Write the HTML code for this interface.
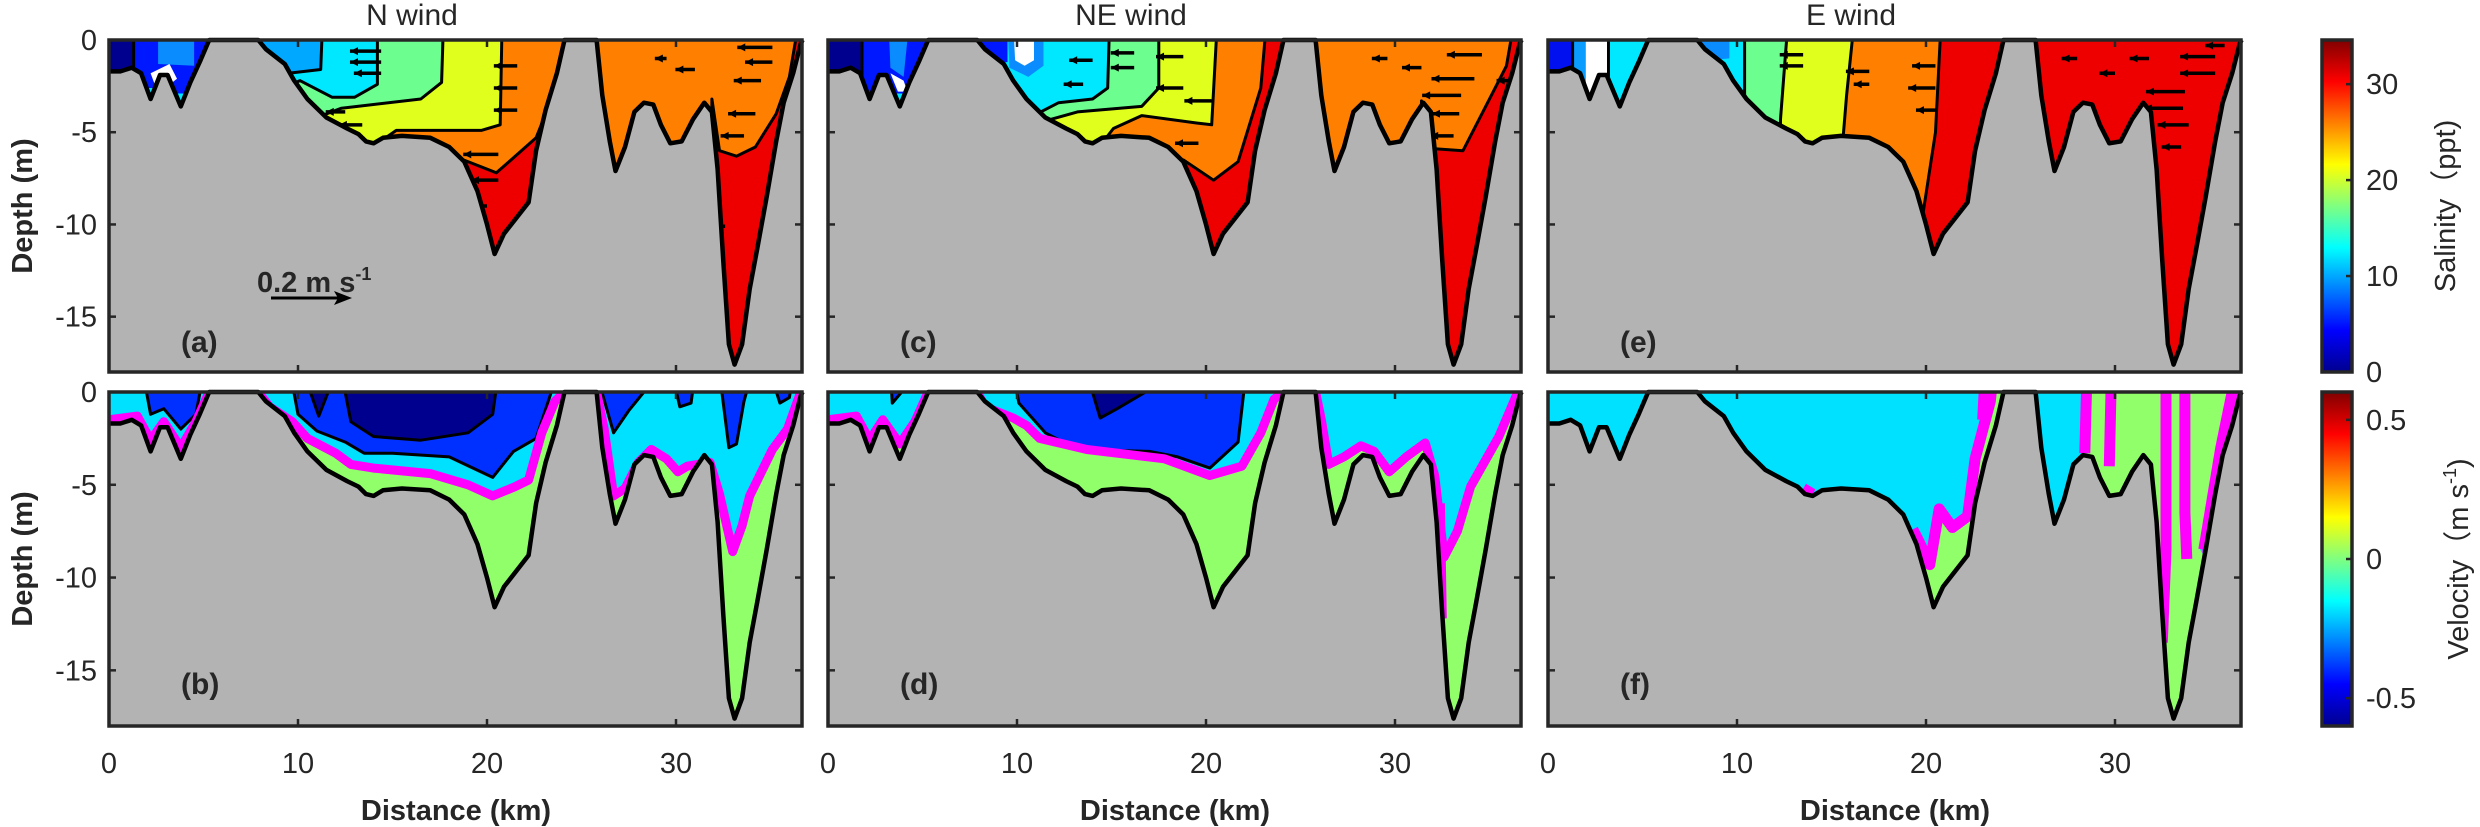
<!DOCTYPE html>
<html><head><meta charset="utf-8"><style>
html,body{margin:0;padding:0;background:#fff}
svg{display:block}
text{font-family:"Liberation Sans",Arial,sans-serif;fill:#262626}
</style></head><body>
<svg id="fig" width="2480" height="827" viewBox="0 0 2480 827" xmlns="http://www.w3.org/2000/svg">
<defs>
<linearGradient id="jetS" x1="0" y1="1" x2="0" y2="0">
<stop offset="0" stop-color="#00008f"/><stop offset="0.125" stop-color="#0000ff"/><stop offset="0.375" stop-color="#00ffff"/><stop offset="0.625" stop-color="#ffff00"/><stop offset="0.875" stop-color="#ff0000"/><stop offset="1" stop-color="#800000"/>
</linearGradient>
</defs>
</svg>
<script>
// ---- data ----
const bathyKm=[0,0.6,1.2,1.7,2.2,2.7,3.1,3.8,4.3,4.8,5.3,7.9,8.3,9.3,9.8,10.5,11.5,12.6,13.2,13.6,14,14.5,15.5,17,18,18.8,19.5,20,20.4,20.9,22.2,22.6,23.1,23.7,24.1,25.8,26.1,26.5,26.8,27.3,27.8,28.3,28.8,29.2,29.7,30.3,30.9,31.5,31.9,32.2,32.5,32.8,33.1,33.5,33.9,34.3,34.8,35.3,35.7,36.2,36.6,36.7];
const bathyDepth=[-1.7,-1.7,-1.5,-1.8,-3.2,-1.9,-1.9,-3.6,-2.3,-1.2,0,0,-0.5,-1.3,-2.2,-3.2,-4.2,-4.8,-5.1,-5.5,-5.6,-5.3,-5.2,-5.3,-5.8,-6.6,-8.2,-10,-11.6,-10.5,-8.8,-6,-3.8,-1.8,0,0,-3,-5.5,-7.1,-5.8,-3.9,-3.4,-3.5,-4.6,-5.6,-5.5,-4.3,-3.4,-3.9,-7,-12,-16.5,-17.6,-16.5,-13.5,-11.3,-8.5,-5.5,-3.4,-1.8,-0.2,0];
const xTicks=[0,10,20,30];
const yTicks=[0,-5,-10,-15];
const salTicks=[0,10,20,30];
const velTicks=[-0.5,0,0.5];
const titles=["N wind","NE wind","E wind"];
const W=[-1,1],E2=[38,1];
const layersA=[
["#00008f",0,[[-1,1],[-1,-20],[6,-20],[6,1]]],
["#0018ff",1,[[1.3,1],[1.3,-20],[6,-20],[6,1]]],
["#0a8cff",0,[[2.6,1],[2.6,-1.3],[4.5,-1.4],[4.5,1]]],
["#ffffff",0,[[2.2,-1.8],[3.2,-1.3],[3.6,-2.1],[2.6,-2.9]]],
["#00e8ff",0,[[1.9,-2.6],[2.6,-2.6],[2.6,-5],[1.9,-5]]],
["#00e8ff",0,[[3.5,-2.9],[4.2,-2.9],[4.2,-5],[3.5,-5]]],
["#00a8ff",0,[[7,1],[7,-20],[24.7,-20],[24.7,1]]],
["#00e8ff",1,[[11.3,1],[11.2,-1.6],[9.5,-1.8],[9,-20],[24.7,-20],[24.7,1]]],
["#6cff90",1,[[14.2,1],[14.2,-2.4],[13,-3.1],[11.8,-3.1],[10.1,-2.2],[9.5,-2.5],[9.5,-20],[24.7,-20],[24.7,1]]],
["#e0ff1c",1,[[17.7,1],[17.6,-2.3],[16.5,-3.2],[12.3,-3.7],[11,-4.2],[11,-20],[24.7,-20],[24.7,1]]],
["#ff8000",1,[[20.8,1],[20.7,-4.6],[19.7,-4.9],[15.2,-4.9],[14.5,-5.4],[13.5,-6],[13.5,-20],[24.7,-20],[24.7,1]]],
["#ee0000",1,[[18.5,-6.4],[20.5,-7.2],[22.6,-5.3],[23.5,-3],[24.7,-3],[24.7,-20],[18.5,-20]]],
["#ff8000",0,[[25,1],[25,-20],[38,-20],[38,1]]],
["#ee0000",1,[[31.9,-3.2],[32.3,-6],[33.2,-6.3],[34.2,-5.8],[35.3,-4],[36,-2],[36.5,1],[38,1],[38,-20],[31.9,-20]]]
];
const layersC=[
["#00008f",0,[[-1,1],[-1,-20],[6,-20],[6,1]]],
["#0018ff",1,[[1.8,1],[1.8,-20],[6,-20],[6,1]]],
["#0a8cff",0,[[3.2,1],[3.3,-1.5],[4,-2],[4.3,1]]],
["#ffffff",0,[[3.3,-1.8],[4,-2.2],[4.2,-2.8],[3.7,-2.8]]],
["#00e8ff",0,[[3.6,-2.9],[4.2,-2.9],[4.2,-5],[3.6,-5]]],
["#00e8ff",0,[[7,1],[7,-20],[24.7,-20],[24.7,1]]],
["#0018ff",0,[[7.5,1],[7.5,-1.2],[9.5,-1.2],[9.5,1]]],
["#0a8cff",0,[[9.5,1],[9.6,-1.5],[10.6,-2],[11.4,-1.4],[11.4,1]]],
["#ffffff",0,[[9.8,1],[9.9,-1.1],[10.4,-1.4],[10.9,-1.1],[10.9,1]]],
["#6cff90",1,[[14.9,1],[14.8,-2.6],[14,-3.2],[12.2,-3.4],[10.5,-4.3],[10.5,-20],[24.7,-20],[24.7,1]]],
["#e0ff1c",1,[[17.5,1],[17.5,-2.6],[16.6,-3.6],[13.2,-3.9],[11.8,-4.3],[11.8,-20],[24.7,-20],[24.7,1]]],
["#ff8000",1,[[20.6,1],[20.3,-4.6],[19.5,-4.5],[16.6,-4.1],[15.1,-4.8],[14.5,-5.6],[14.5,-20],[24.7,-20],[24.7,1]]],
["#ee0000",1,[[18.8,-6.5],[20.4,-7.6],[21.7,-6.6],[22.9,-2.6],[23.2,1],[24.7,1],[24.7,-20],[18.8,-20]]],
["#ff8000",0,[[25,1],[25,-20],[38,-20],[38,1]]],
["#ee0000",1,[[31.4,-3.3],[32.1,-5.9],[33.6,-6],[34.8,-3.6],[35.9,-1.4],[36.3,1],[38,1],[38,-20],[31.4,-20]]]
];
const layersE=[
["#0010ee",0,[[-1,1],[-1,-20],[6,-20],[6,1]]],
["#0a9cff",1,[[1.3,1],[1.3,-20],[6,-20],[6,1]]],
["#ffffff",0,[[2,1],[2,-20],[3.2,-20],[3.2,1]]],
["#00e8ff",1,[[3.2,1],[3.2,-20],[6,-20],[6,1]]],
["#00e8ff",0,[[7,1],[7,-20],[24.7,-20],[24.7,1]]],
["#0a8cff",0,[[7.5,1],[7.5,-1.2],[9.6,-1],[9.6,1]]],
["#6cff90",1,[[10.4,1],[10.4,-20],[24.7,-20],[24.7,1]]],
["#e0ff1c",1,[[12.7,1],[12.3,-4.3],[12.2,-20],[24.7,-20],[24.7,1]]],
["#ff8000",1,[[16.2,1],[15.8,-3],[15.6,-5.5],[15.6,-20],[24.7,-20],[24.7,1]]],
["#ee0000",1,[[20.8,1],[20.5,-5],[19.8,-9.7],[19.8,-20],[24.7,-20],[24.7,1]]],
["#ee0000",0,[[25,1],[25,-20],[38,-20],[38,1]]]
];
const quiverA=[[14.4,-0.6,-0.08],[14.4,-1.2,-0.08],[14.4,-1.8,-0.07],[12.5,-3.9,-0.05],[13.4,-4.6,-0.06],[12.5,-5.3,-0.06],[21.6,-1.4,-0.06],[21.6,-2.6,-0.06],[21.6,-3.8,-0.06],[20.6,-6.2,-0.09],[20.6,-7.6,-0.07],[20,-9,-0.06],[35.1,-0.4,-0.09],[35.1,-1.2,-0.07],[34.5,-2.2,-0.07],[34.2,-4,-0.07],[33.6,-5.2,-0.06],[32.6,-10.1,-0.05],[32.3,-12.5,-0.05],[31,-1.6,-0.05],[29.5,-1,-0.03],[36.2,-4.6,-0.03]];
const quiverC=[[16.2,-0.7,-0.06],[16.2,-1.5,-0.06],[18.8,-0.9,-0.07],[18.8,-2.6,-0.07],[20.3,-3.3,-0.07],[19.6,-5.6,-0.06],[14,-1.1,-0.06],[13.5,-2.4,-0.05],[34.6,-0.8,-0.09],[34.2,-2.1,-0.11],[33.5,-3,-0.1],[33.4,-4,-0.07],[33.1,-5.2,-0.06],[31.4,-1.5,-0.05],[29.6,-1,-0.04],[36.2,-2.2,-0.04]];
const quiverE=[[20.5,-1.4,-0.06],[20.5,-2.6,-0.07],[20.5,-3.8,-0.05],[17,-1.7,-0.06],[17,-2.4,-0.04],[13.5,-0.8,-0.06],[13.5,-1.4,-0.06],[35.3,-0.9,-0.09],[35.3,-1.8,-0.09],[33.7,-2.8,-0.1],[33.6,-3.7,-0.1],[33.9,-4.6,-0.08],[33.5,-5.8,-0.05],[31.8,-1,-0.05],[30,-1.8,-0.04],[28,-1,-0.04],[35.8,-0.3,-0.05]];
const contourB=[[-0.5,-1.4],[0,-1.5],[1.5,-1.3],[2.2,-2.6],[2.9,-1.6],[3.8,-3],[4.6,-1.6],[5.3,0],[7.9,0],[8.5,-0.8],[9.7,-1.6],[10.5,-2.5],[12,-3.3],[12.8,-3.9],[14,-4.1],[17,-4.4],[19,-5],[20.3,-5.6],[21.5,-5.1],[22.2,-4.75],[22.9,-2.2],[23.6,-0.5],[24.1,0],[25.8,0],[26.2,-2],[26.7,-5.6],[27.3,-5.2],[28,-3.8],[28.7,-3.1],[29.5,-3.6],[30.1,-4.3],[30.6,-4],[31.8,-3.8],[32.3,-5.5],[33,-8.6],[33.5,-7.2],[33.9,-5.6],[35.1,-3.1],[35.9,-2],[36.6,0],[37,0]];
const contourD=[[-0.5,-1.4],[0,-1.5],[1.5,-1.3],[2.2,-2.6],[2.9,-1.5],[3.8,-2.8],[4.6,-1.6],[5.3,0],[7.9,0],[8.3,-0.8],[9.8,-1.4],[10.5,-1.8],[11.2,-2.5],[13.7,-3.1],[17.8,-3.6],[20.2,-4.5],[21.9,-4],[22.9,-2.2],[23.6,-0.4],[24.1,0],[25.8,0],[26.1,-1.5],[26.5,-3.9],[27.3,-3.5],[28.2,-2.9],[28.9,-3.2],[29.7,-4.3],[30.6,-3.5],[31.6,-2.75],[32.1,-4.5],[32.6,-8.9],[33.3,-7.5],[34,-5.1],[35.5,-2.4],[36.5,0],[37,0]];
const velLayersB=[
["#00e0ff",0,contourB.concat([E2,W])],
["#0030ff",1,[[1.8,1],[2.2,-1.2],[2.9,-0.9],[3.8,-2],[4.6,-1.2],[5,1]]],
["#0030ff",1,[[9.6,1],[10,-1.2],[11,-2.1],[12.5,-2.7],[13.5,-3.3],[15,-3.3],[18,-3.5],[20.3,-4.6],[21.4,-3.2],[22.6,-2.5],[23.4,0],[23.5,1]]],
["#0030ff",1,[[25.8,1],[26.7,-2.2],[27.5,-1],[28.3,0],[28.3,1]]],
["#0030ff",1,[[29.8,1],[30.2,-0.8],[30.8,-0.6],[31,1]]],
["#0030ff",1,[[32.3,1],[32.8,-3],[33.2,-2.8],[33.6,-0.5],[34,1]]],
["#0030ff",1,[[35,1],[35.5,-0.6],[36,-0.3],[36.2,1]]],
["#00008f",1,[[10.3,1],[11.1,-1.3],[11.6,0],[11.7,1]]],
["#00008f",1,[[12.3,1],[12.8,-1.6],[14,-2.4],[16.5,-2.6],[19,-2.2],[20.3,-1.2],[20.6,1]]]
];
const velLayersD=[
["#00e0ff",0,contourD.concat([E2,W])],
["#0030ff",1,[[3.3,1],[3.4,-0.6],[3.9,0],[3.9,1]]],
["#0030ff",1,[[9.8,1],[10.1,-0.6],[11.5,-2.2],[13.2,-3.1],[17,-3.2],[18.5,-3.5],[20.2,-4.1],[21.7,-2.7],[22,0],[22,1]]],
["#00008f",1,[[13.7,1],[14.4,-1.4],[15.3,-0.9],[16.8,0],[16.8,1]]]
];
const velLayersF=[
["#00e0ff",0,[[-1,1],[-1,-20],[6,-20],[6,1]]],
["#00e0ff",0,[[7,1],[7,-20],[19.3,-20],[19.3,-7.4],[19.6,-8],[20.2,-9.3],[20.7,-6.3],[21.4,-7.3],[22.2,-6.7],[22.6,-3.6],[23.4,-0.5],[23.5,1]]],
["#00e0ff",0,[[25.5,1],[25.5,-20],[27.8,-20],[28.3,-3],[28.4,1]]],
["#00e0ff",0,[[34.5,-8.5],[35.6,-3.5],[36.2,0],[36.6,0],[35.3,-7],[34.8,-9]]]
];
const magentaB=[contourB];
const magentaD=[contourD,[[32.4,-6],[32.5,-12.2]]];
const magentaF=[[[13.5,-5.2],[14,-5.5]],[[19.3,-7.4],[19.6,-8],[20.2,-9.3],[20.7,-6.3],[21.4,-7.3],[22.2,-6.7],[22.6,-3.6],[23.4,-0.5],[23.5,0.5]],[[28.5,0.5],[28.4,-3.3]],[[29.8,0.5],[29.7,-4]],[[32.7,0.5],[32.7,-8.5],[32.5,-13.5]],[[33.7,0.5],[33.7,-6.5],[33.8,-9]],[[36.3,0.5],[35.6,-3],[34.7,-8.5]],[[36.7,0.5],[36,-2],[35.2,-5.5],[34.9,-8.7]],[[23.1,0.5],[23,-1.5]]];

// ---- layout ----
const NS="http://www.w3.org/2000/svg";
const svg=document.getElementById('fig');
const lefts=[109,828,1548], PW=693, KM=18.9;
const rows=[{y:40,h:332},{y:392,h:334}];
function mk(tag,attrs,parent){const e=document.createElementNS(NS,tag);for(const k in attrs)e.setAttribute(k,attrs[k]);(parent||svg).appendChild(e);return e;}
function X(col,km){return lefts[col]+km*KM;}
function Y(row,d){return rows[row].y+(-d)*rows[row].h/18;}
function pts(col,row,arr){return arr.map(p=>X(col,p[0]).toFixed(1)+","+Y(row,p[1]).toFixed(1)).join(" ");}

const salLayers=[layersA,layersC,layersE];
const velLayers=[velLayersB,velLayersD,velLayersF];
const magentas=[magentaB,magentaD,magentaF];
const quivers=[quiverA,quiverC,quiverE];
const labels=[["(a)","(b)"],["(c)","(d)"],["(e)","(f)"]];
const bathy=bathyKm.map((k,i)=>[k,bathyDepth[i]]);

for(let col=0;col<3;col++){
 for(let row=0;row<2;row++){
  const g=mk('g',{});
  
  
  const x0=lefts[col], y0=rows[row].y, h=rows[row].h;
  const bg=mk('rect',{x:x0,y:y0,width:PW,height:h,fill:'#b3b3b3'},g);
  
  
  const cid='clip'+col+row;
  const cp=mk('clipPath',{id:cid},g);
  const waterPts=[[0,0],[36.7,0]].concat(bathy.slice().reverse());
  mk('polygon',{points:pts(col,row,waterPts)},cp);
  const cg=mk('g',{'clip-path':'url(#'+cid+')'},g);
  const layers=row===0?salLayers[col]:[["#90ff6a",0,[[-1,1],[-1,-20],[38,-20],[38,1]]]].concat(velLayers[col]);
  layers.forEach(L=>{
   const p=mk('polygon',{points:pts(col,row,L[2]),fill:L[0],stroke:L[1]?'#000':'none','stroke-width':3,'stroke-linejoin':'round'},cg);
   
   
  });
  if(row===1){
   magentas[col].forEach(m=>{
    const l=mk('polyline',{points:pts(col,row,m),fill:'none',stroke:'#ff00ff','stroke-width':col===2?11:9,'stroke-linejoin':'round'},cg);
    
    
   });
  } else {
   quivers[col].forEach(q=>{
    const xa=X(col,q[0]), ya=Y(row,q[1]), xb=xa+q[2]*390;
    const a=mk('line',{x1:xa,y1:ya,x2:xb,y2:ya,stroke:'#000','stroke-width':3.5},cg);
    
    
    const hd=mk('polygon',{points:(xb)+","+ya+" "+(xb+8)+","+(ya-4)+" "+(xb+8)+","+(ya+4),fill:'#000'},cg);
    
    
   });
  }
  const bl=mk('polyline',{points:pts(col,row,bathy),fill:'none',stroke:'#000','stroke-width':4.5,'stroke-linejoin':'round'},g);
  
  
  // ticks
  xTicks.forEach(t=>{if(t===0)return;const x=X(col,t);
   mk('line',{x1:x,y1:y0+h,x2:x,y2:y0+h-7,stroke:'#262626','stroke-width':2.5},g);
   mk('line',{x1:x,y1:y0,x2:x,y2:y0+7,stroke:'#262626','stroke-width':2.5},g);});
  yTicks.forEach(t=>{if(t===0)return;const y=Y(row,t);
   mk('line',{x1:x0,y1:y,x2:x0+7,y2:y,stroke:'#262626','stroke-width':2.5},g);
   mk('line',{x1:x0+PW,y1:y,x2:x0+PW-7,y2:y,stroke:'#262626','stroke-width':2.5},g);});
  const fr=mk('rect',{x:x0,y:y0,width:PW,height:h,fill:'none',stroke:'#262626','stroke-width':3.5},g);
  
  
  const pl=mk('text',{x:x0+72,y:y0+(row===0?312:302),'font-size':30,'font-weight':'bold'},g);
  pl.textContent=labels[col][row];
  
  
  if(col===0){
   yTicks.forEach(t=>{const tl=mk('text',{x:x0-12,y:Y(row,t)+10,'font-size':29,'text-anchor':'end'},g);tl.textContent=t===0?'0':String(t);
    
    });
   const yl=mk('text',{x:0,y:0,'font-size':29,'font-weight':'bold','text-anchor':'middle',transform:'translate(32,'+(y0+h/2)+') rotate(-90)'},g);
   yl.textContent='Depth (m)';
   
   
  }
  if(row===1){
   xTicks.forEach(t=>{const tl=mk('text',{x:X(col,t),y:773,'font-size':29,'text-anchor':'middle'},g);tl.textContent=String(t);
    
    });
   const xl=mk('text',{x:x0+347,y:820,'font-size':29,'font-weight':'bold','text-anchor':'middle'},g);
   xl.textContent='Distance (km)';
   
   
  } else {
   const tt=mk('text',{x:x0+303,y:25,'font-size':30,'text-anchor':'middle'},g);
   tt.textContent=titles[col];
   
   
  }
 }
}
// scale arrow in (a)
const sg=mk('g',{});


const st=mk('text',{x:257,y:292,'font-size':29,'font-weight':'bold'},sg);
st.innerHTML='0.2 m s<tspan dy="-12" font-size="18">-1</tspan>';
mk('line',{x1:271,y1:298,x2:340,y2:298,stroke:'#000','stroke-width':3},sg);
mk('polygon',{points:'352,298 334,291 338,298 334,305',fill:'#000'},sg);

// colorbars
function colorbar(y0,h,vmin,vmax,ticks,label,name,fmt){
 const g=mk('g',{});
 
 
 mk('rect',{x:2322,y:y0,width:30,height:h,fill:'url(#jetS)',stroke:'#262626','stroke-width':3.5},g);
 ticks.forEach(t=>{const y=y0+h-(t-vmin)/(vmax-vmin)*h;
  mk('line',{x1:2352,y1:y,x2:2346,y2:y,stroke:'#262626','stroke-width':2.5},g);
  const tl=mk('text',{x:2366,y:y+10,'font-size':29},g);tl.textContent=fmt(t);
  
  });
 const lt=mk('text',{x:0,y:0,'font-size':29,'text-anchor':'middle',transform:'translate('+label[1]+','+(y0+h/2)+') rotate(-90)'},g);
 lt.innerHTML=label[0];
 
 
}
colorbar(40,332,0,34.6,salTicks,['Salinity（ppt)',2455],'salinity-colorbar',t=>String(t));
colorbar(392,334,-0.6,0.6,velTicks,['Velocity（m s<tspan dy="-12" font-size="18">-1</tspan><tspan dy="12">)</tspan>',2468],'velocity-colorbar',t=>String(t));
</script>
</body></html>
